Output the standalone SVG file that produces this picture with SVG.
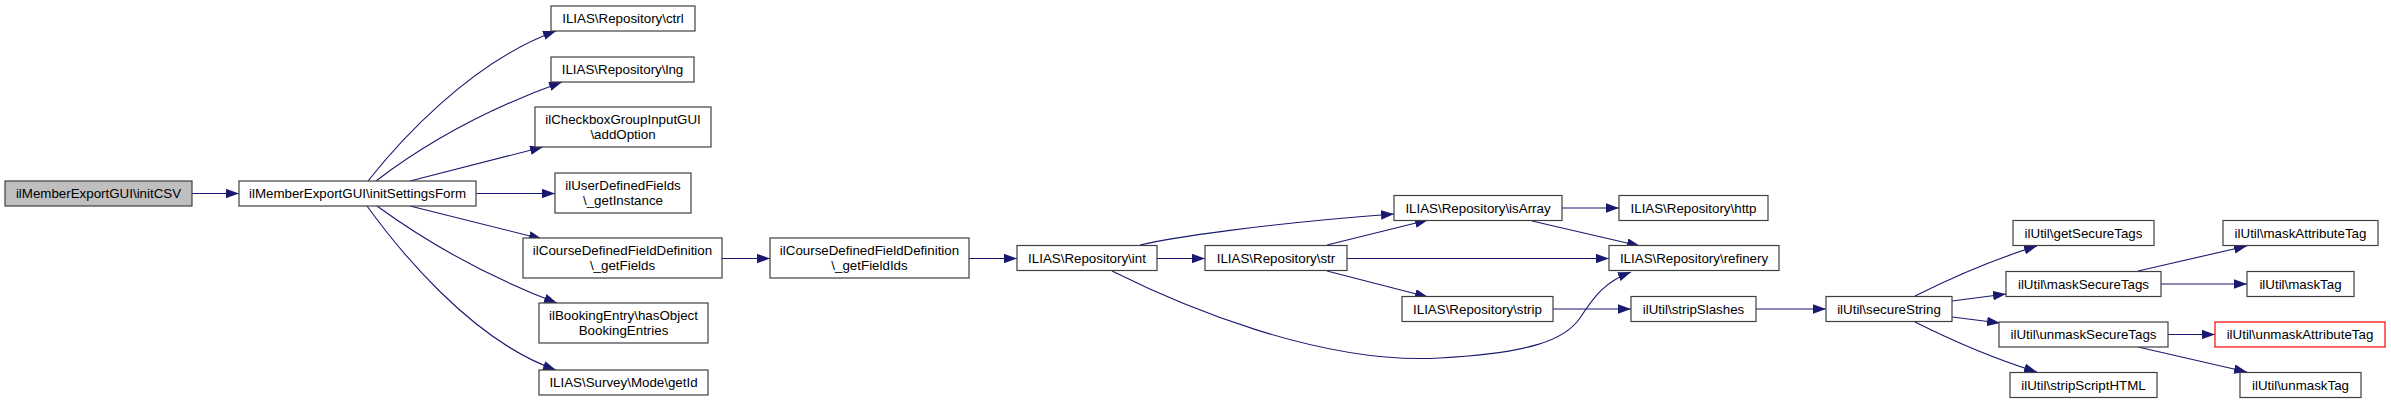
<svg xmlns="http://www.w3.org/2000/svg" width="2391" height="404" viewBox="0 0 2391 404">
<style>
.n rect{fill:#ffffff;stroke:#404040;stroke-width:1.2}
.root rect{fill:#bfbfbf}
.red rect{stroke:#ff0000}
.n text{font-family:"Liberation Sans",Arial,Helvetica,sans-serif;font-size:13.33px;fill:#000000;text-anchor:middle}
.e path{fill:none;stroke:#191970;stroke-width:1.1;marker-end:url(#arr)}
</style>
<defs>
<marker id="arr" viewBox="0 0 13 9.4" refX="13" refY="4.7" markerWidth="13" markerHeight="9.4" markerUnits="userSpaceOnUse" orient="auto">
<path d="M0,0 L13,4.7 L0,9.4 Z" fill="#191970" stroke="none"/>
</marker>
</defs>
<rect width="2391" height="404" fill="#ffffff"/>
<g id="edges" class="e">
<path d="M192,193.5 L239,193.5"/>
<path d="M368,181 C398,143 470,62 556,31"/>
<path d="M376,181 C410,155 470,115 562,82"/>
<path d="M410,181 L543,147"/>
<path d="M476,193.5 L555,193.5"/>
<path d="M410,206 L542,239"/>
<path d="M377,206 C410,230 470,270 557,303"/>
<path d="M367,206 C396,246 470,340 556,370"/>
<path d="M722,258.5 L770,258.5"/>
<path d="M969,258.5 L1017,258.5"/>
<path d="M1157,258.5 L1205,258.5"/>
<path d="M1140,245 C1170,238 1260,224 1394,214"/>
<path d="M1112,271 C1180,305 1320,365 1440,358 C1530,353 1565,340 1580,318 C1595,295 1605,282 1631,272"/>
<path d="M1327,245 L1428,220"/>
<path d="M1347,258.5 L1609,258.5"/>
<path d="M1327,271 L1428,297"/>
<path d="M1562,208 L1619,208"/>
<path d="M1532,221 L1640,246"/>
<path d="M1553,309 L1631,309"/>
<path d="M1756,309 L1826,309"/>
<path d="M1915,296 C1945,281 1985,262 2037,246"/>
<path d="M1952,301 L2006,294"/>
<path d="M1952,317 L2000,323"/>
<path d="M1915,322 C1945,337 1985,356 2037,372"/>
<path d="M2138,271 L2247,246"/>
<path d="M2161,284 L2247,284"/>
<path d="M2168,334.5 L2215,334.5"/>
<path d="M2138,347 L2247,372"/>
</g>
<g id="initCSV" class="n root"><rect x="5" y="181" width="187" height="25"/><text x="98.5" y="198">ilMemberExportGUI\initCSV</text></g>
<g id="initSettingsForm" class="n"><rect x="239" y="181" width="237" height="25"/><text x="357.5" y="198">ilMemberExportGUI\initSettingsForm</text></g>
<g id="ctrl" class="n"><rect x="551" y="6" width="144" height="25"/><text x="623" y="23">ILIAS\Repository\ctrl</text></g>
<g id="lng" class="n"><rect x="551" y="57" width="143" height="25"/><text x="622.5" y="74">ILIAS\Repository\lng</text></g>
<g id="addOption" class="n"><rect x="535" y="107" width="176" height="40"/><text x="623" y="124">ilCheckboxGroupInputGUI</text><text x="623" y="139">\addOption</text></g>
<g id="getInstance" class="n"><rect x="555" y="173" width="136" height="40"/><text x="623" y="190">ilUserDefinedFields</text><text x="623" y="205">\_getInstance</text></g>
<g id="getFields" class="n"><rect x="523" y="238" width="199" height="40"/><text x="622.5" y="255">ilCourseDefinedFieldDefinition</text><text x="622.5" y="270">\_getFields</text></g>
<g id="hasObjectBookingEntries" class="n"><rect x="539" y="303" width="169" height="40"/><text x="623.5" y="320">ilBookingEntry\hasObject</text><text x="623.5" y="335">BookingEntries</text></g>
<g id="getId" class="n"><rect x="539" y="370" width="169" height="25"/><text x="623.5" y="387">ILIAS\Survey\Mode\getId</text></g>
<g id="getFieldIds" class="n"><rect x="770" y="238" width="199" height="40"/><text x="869.5" y="255">ilCourseDefinedFieldDefinition</text><text x="869.5" y="270">\_getFieldIds</text></g>
<g id="int" class="n"><rect x="1017" y="245.5" width="140" height="25"/><text x="1087" y="262.5">ILIAS\Repository\int</text></g>
<g id="str" class="n"><rect x="1205" y="245.5" width="142" height="25"/><text x="1276" y="262.5">ILIAS\Repository\str</text></g>
<g id="isArray" class="n"><rect x="1394" y="195.5" width="168" height="25"/><text x="1478" y="212.5">ILIAS\Repository\isArray</text></g>
<g id="strip" class="n"><rect x="1402" y="296.5" width="151" height="25"/><text x="1477.5" y="313.5">ILIAS\Repository\strip</text></g>
<g id="http" class="n"><rect x="1619" y="195.5" width="149" height="25"/><text x="1693.5" y="212.5">ILIAS\Repository\http</text></g>
<g id="refinery" class="n"><rect x="1609" y="245.5" width="170" height="25"/><text x="1694" y="262.5">ILIAS\Repository\refinery</text></g>
<g id="stripSlashes" class="n"><rect x="1631" y="296.5" width="125" height="25"/><text x="1693.5" y="313.5">ilUtil\stripSlashes</text></g>
<g id="secureString" class="n"><rect x="1826" y="296.5" width="126" height="25"/><text x="1889" y="313.5">ilUtil\secureString</text></g>
<g id="getSecureTags" class="n"><rect x="2013" y="220.5" width="141" height="25"/><text x="2083.5" y="237.5">ilUtil\getSecureTags</text></g>
<g id="maskSecureTags" class="n"><rect x="2006" y="271.5" width="155" height="25"/><text x="2083.5" y="288.5">ilUtil\maskSecureTags</text></g>
<g id="unmaskSecureTags" class="n"><rect x="1999" y="322" width="169" height="25"/><text x="2083.5" y="339">ilUtil\unmaskSecureTags</text></g>
<g id="stripScriptHTML" class="n"><rect x="2010" y="372.5" width="147" height="25"/><text x="2083.5" y="389.5">ilUtil\stripScriptHTML</text></g>
<g id="maskAttributeTag" class="n"><rect x="2223" y="220.5" width="155" height="25"/><text x="2300.5" y="237.5">ilUtil\maskAttributeTag</text></g>
<g id="maskTag" class="n"><rect x="2247" y="271.5" width="107" height="25"/><text x="2300.5" y="288.5">ilUtil\maskTag</text></g>
<g id="unmaskAttributeTag" class="n red"><rect x="2215" y="322" width="170" height="25"/><text x="2300" y="339">ilUtil\unmaskAttributeTag</text></g>
<g id="unmaskTag" class="n"><rect x="2240" y="372.5" width="121" height="25"/><text x="2300.5" y="389.5">ilUtil\unmaskTag</text></g>
</svg>
